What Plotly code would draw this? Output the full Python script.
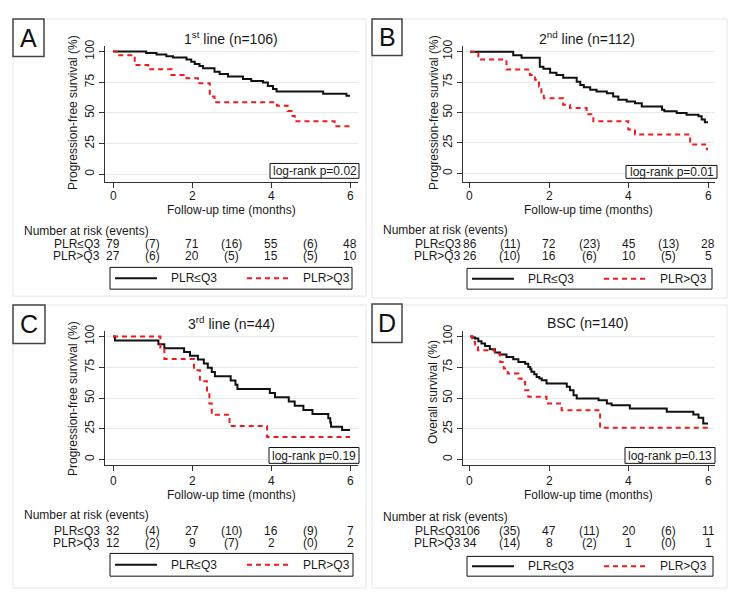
import plotly.graph_objects as go

# ---------------- data ----------------
risk_times = [0, 2, 4, 6]
event_times = [1, 3, 5]
group_labels = ["PLR≤Q3", "PLR>Q3"]

A_black_t = [0, 0.84, 1.1, 1.35, 1.52, 1.86, 1.98, 2.07, 2.19, 2.28, 2.57, 2.7, 2.91, 3.29, 3.5, 3.8, 3.92, 4.05, 4.14, 5.32, 5.91, 6.0]
A_black_s = [100, 98.9, 97.6, 96.2, 95.2, 93.5, 91.7, 89.8, 88.2, 86.3, 83.6, 81.7, 79.6, 77.7, 76.0, 74.7, 72.0, 69.4, 67.5, 65.6, 64.0, 64.0]
A_red_t = [0, 0.13, 0.55, 0.89, 1.48, 1.86, 2.15, 2.45, 2.57, 4.15, 4.42, 4.52, 4.6, 5.61, 6.0]
A_red_s = [100, 97.0, 89.0, 85.5, 80.9, 78.2, 74.2, 63.4, 58.6, 55.9, 51.5, 47.5, 43.3, 39.2, 39.2]

B_black_t = [0, 1.09, 1.3, 1.76, 1.85, 2.02, 2.18, 2.35, 2.69, 2.78, 2.87, 3.03, 3.19, 3.45, 3.61, 3.74, 3.95, 4.16, 4.33, 4.84, 4.9, 5.21, 5.46, 5.76, 5.84, 5.92, 6.0]
B_black_s = [100, 97.0, 95.0, 87.5, 86.0, 82.6, 80.8, 78.6, 75.3, 72.6, 70.7, 68.6, 67.2, 65.9, 63.1, 60.4, 59.1, 57.7, 55.0, 52.3, 51.0, 49.6, 48.2, 47.0, 44.2, 42.0, 42.0]
B_red_t = [0, 0.21, 0.92, 1.51, 1.64, 1.74, 1.8, 1.86, 2.35, 2.52, 2.94, 3.11, 3.99, 4.16, 5.55, 5.97, 6.0]
B_red_s = [100, 93.5, 85.4, 80.8, 76.9, 71.3, 65.4, 61.8, 56.4, 53.7, 48.5, 42.8, 36.0, 32.0, 23.8, 19.8, 19.8]

C_black_t = [0, 0.05, 1.15, 1.3, 1.8, 1.95, 2.15, 2.3, 2.4, 2.5, 2.58, 2.98, 3.1, 3.15, 3.97, 4.1, 4.45, 4.6, 4.82, 5.05, 5.45, 5.5, 5.52, 5.8, 6.0]
C_black_s = [100, 96.9, 93.8, 90.6, 87.5, 84.4, 81.3, 78.1, 74.6, 71.1, 67.7, 64.3, 60.8, 57.4, 54.0, 50.6, 47.2, 43.7, 40.3, 36.9, 33.5, 30.0, 26.6, 23.9, 23.9]
C_red_t = [0, 1.2, 1.3, 2.05, 2.2, 2.38, 2.44, 2.5, 2.95, 3.9, 6.0]
C_red_s = [100, 90.9, 81.8, 72.7, 63.6, 54.5, 45.5, 36.4, 27.3, 18.2, 18.2]

D_black_t = [0, 0.06, 0.13, 0.21, 0.29, 0.38, 0.5, 0.63, 0.76, 0.92, 1.09, 1.22, 1.39, 1.47, 1.52, 1.55, 1.62, 1.68, 1.75, 1.81, 1.93, 2.44, 2.52, 2.61, 2.69, 3.24, 3.45, 3.57, 4.03, 4.96, 5.63, 5.76, 5.88, 6.0]
D_black_s = [100, 99.2, 98.4, 96.2, 94.3, 92.4, 89.7, 87.0, 85.4, 83.5, 81.6, 79.4, 78.0, 75.3, 73.5, 71.3, 69.3, 67.2, 65.8, 64.5, 61.8, 59.1, 56.4, 52.3, 49.6, 48.2, 45.5, 44.2, 41.5, 38.8, 36.6, 33.9, 29.3, 29.3]
D_red_t = [0, 0.06, 0.13, 0.2, 0.62, 0.76, 0.85, 0.95, 1.22, 1.3, 1.39, 1.47, 1.93, 2.31, 3.28, 6.0]
D_red_s = [100, 95.7, 91.6, 88.9, 86.0, 79.4, 74.0, 69.9, 65.9, 63.1, 56.4, 51.0, 45.5, 40.1, 25.7, 25.7]

A_risk_lo = [79, 71, 55, 48]; A_ev_lo = [7, 16, 6]
A_risk_hi = [27, 20, 15, 10]; A_ev_hi = [6, 5, 5]
B_risk_lo = [86, 72, 45, 28]; B_ev_lo = [11, 23, 13]
B_risk_hi = [26, 16, 10, 5]; B_ev_hi = [10, 6, 5]
C_risk_lo = [32, 27, 16, 7]; C_ev_lo = [4, 10, 9]
C_risk_hi = [12, 9, 2, 2]; C_ev_hi = [2, 7, 0]
D_risk_lo = [106, 47, 20, 11]; D_ev_lo = [35, 11, 6]
D_risk_hi = [34, 8, 1, 1]; D_ev_hi = [14, 2, 0]

titles = ["1<sup>st</sup> line (n=106)", "2<sup>nd</sup> line (n=112)", "3<sup>rd</sup> line (n=44)", "BSC (n=140)"]
ytitles = ["Progression-free survival (%)", "Progression-free survival (%)", "Progression-free survival (%)", "Overall survival (%)"]
xtitle = "Follow-up time (months)"
letters = ["A", "B", "C", "D"]
pvalues = ["log-rank p=0.02", "log-rank p=0.01", "log-rank p=0.19", "log-rank p=0.13"]
y_ticks = [0, 25, 50, 75, 100]
x_ticks = [0, 2, 4, 6]

series = [
    (A_black_t, A_black_s, A_red_t, A_red_s, A_risk_lo, A_ev_lo, A_risk_hi, A_ev_hi),
    (B_black_t, B_black_s, B_red_t, B_red_s, B_risk_lo, B_ev_lo, B_risk_hi, B_ev_hi),
    (C_black_t, C_black_s, C_red_t, C_red_s, C_risk_lo, C_ev_lo, C_risk_hi, C_ev_hi),
    (D_black_t, D_black_s, D_red_t, D_red_s, D_risk_lo, D_ev_lo, D_risk_hi, D_ev_hi),
]

# ---------------- layout (pixel positions of the 740x602 page) ----------------
OFF = 8                      # default body margin of the html page
W, H = 740 - 2 * OFF, 602 - 2 * OFF
def px(x): return (x - OFF) / W
def py(y): return 1 - (y - OFF) / H

FONT = "Liberation Sans, Arial, sans-serif"
TXT = "#1a1a1a"
BLACK = "#111111"
RED = "#ee1c1c"
GRID = "#e3ebee"
PANEL = "#e2e7e9"

L = [
    dict(xd=(105, 358), yd=(40, 178), xr=(-0.2025, 6.2025), yr=(-6.5, 104.8), title=(231, 32), ytitle=(73, 108),
         xtick_y=192, xtitle=(231, 206), header=(23, 227), rows=(240, 253), lab_r=101, leg=(110, 264, 352, 286),
         lr=(270, 159, 359, 174), letter=(13, 13, 44, 51), panel=(13, 13, 366, 293)),
    dict(xd=(463, 715), yd=(40, 178), xr=(-0.176, 6.176), yr=(-7.3, 104.9), title=(587, 32), ytitle=(434, 108),
         xtick_y=192, xtitle=(588, 206), header=(382, 226), rows=(240, 253), lab_r=462, leg=(467, 265, 712, 286),
         lr=(626, 161, 717, 174), letter=(372, 13, 402, 50), panel=(372, 13, 727, 295)),
    dict(xd=(105, 358), yd=(328, 464), xr=(-0.2025, 6.2025), yr=(-4.8, 104.8), title=(231, 320), ytitle=(73, 397),
         xtick_y=480, xtitle=(231, 494), header=(23, 514), rows=(530, 542), lab_r=101, leg=(110, 553, 353, 576),
         lr=(269, 446, 359, 462), letter=(13, 302, 45, 341), panel=(13, 302, 366, 588)),
    dict(xd=(463, 715), yd=(328, 464), xr=(-0.176, 6.176), yr=(-4.8, 104.8), title=(587, 320), ytitle=(433, 390),
         xtick_y=480, xtitle=(588, 494), header=(382, 516), rows=(530, 542), lab_r=462, leg=(467, 556, 713, 576),
         lr=(625, 446, 715, 462), letter=(372, 301, 402, 340), panel=(372, 302, 727, 588)),
]

fig = go.Figure()
shapes = []
annotations = []
layout_axes = {}


def note(text, x, y, xref="paper", xanchor="center", size=12, **kw):
    d = dict(text=text, x=x, y=y, xref=xref, yref="paper", showarrow=False, xanchor=xanchor,
             yanchor="middle", borderpad=0, font=dict(family=FONT, size=size, color=kw.pop("color", TXT)))
    d.update(kw)
    annotations.append(d)


for i, (cfg, ser) in enumerate(zip(L, series)):
    n = i + 1
    xa = "x" if n == 1 else f"x{n}"
    ya = "y" if n == 1 else f"y{n}"
    bt, bs, rt, rs, rlo, elo, rhi, ehi = ser

    # panel frame
    x0, y0, x1, y1 = cfg["panel"]
    shapes.append(dict(type="rect", xref="paper", yref="paper", x0=px(x0), x1=px(x1), y0=py(y1), y1=py(y0),
                       line=dict(color=PANEL, width=1), fillcolor="white", layer="below"))

    fig.add_trace(go.Scatter(x=bt, y=bs, mode="lines", line=dict(color=BLACK, width=2, shape="hv"),
                             xaxis=xa, yaxis=ya, showlegend=False, hoverinfo="skip"))
    fig.add_trace(go.Scatter(x=rt, y=rs, mode="lines", line=dict(color=RED, width=2, shape="hv", dash="5px,4px"),
                             xaxis=xa, yaxis=ya, showlegend=False, hoverinfo="skip"))

    xkey = "xaxis" if n == 1 else f"xaxis{n}"
    ykey = "yaxis" if n == 1 else f"yaxis{n}"
    layout_axes[xkey] = dict(domain=[px(cfg["xd"][0]), px(cfg["xd"][1])], range=list(cfg["xr"]), anchor=ya,
                             tickvals=x_ticks, ticks="outside", ticklen=5, tickcolor="#333", showline=True,
                             linecolor="#333", linewidth=1, showgrid=False, zeroline=False,
                             showticklabels=False, fixedrange=True)
    layout_axes[ykey] = dict(domain=[py(cfg["yd"][1]), py(cfg["yd"][0])], range=list(cfg["yr"]), anchor=xa,
                             tickvals=y_ticks, ticks="outside", ticklen=5, tickcolor="#333", showline=True,
                             linecolor="#333", linewidth=1, showgrid=True, gridcolor=GRID, gridwidth=1,
                             zeroline=False, tickangle=-90,
                             tickfont=dict(family=FONT, size=12, color=TXT), fixedrange=True)

    # x tick labels (placed like the Stata original)
    for t in x_ticks:
        note(str(t), t, py(cfg["xtick_y"]), xref=xa)

    # title, axis titles
    note(titles[i], px(cfg["title"][0]), py(cfg["title"][1]), size=14)
    note(ytitles[i], px(cfg["ytitle"][0]), py(cfg["ytitle"][1]), textangle=-90)
    note(xtitle, px(cfg["xtitle"][0]), py(cfg["xtitle"][1]))

    # log-rank box
    lx0, ly0, lx1, ly1 = cfg["lr"]
    shapes.append(dict(type="rect", xref="paper", yref="paper", x0=px(lx0), x1=px(lx1), y0=py(ly1), y1=py(ly0),
                       line=dict(color="#111", width=1), fillcolor="white"))
    note(pvalues[i], px((lx0 + lx1) / 2), py((ly0 + ly1) / 2 + 0.5))

    # letter box
    bx0, by0, bx1, by1 = cfg["letter"]
    shapes.append(dict(type="rect", xref="paper", yref="paper", x0=px(bx0), x1=px(bx1), y0=py(by1), y1=py(by0),
                       line=dict(color="#444", width=1.5), fillcolor="white"))
    note(letters[i], px((bx0 + bx1) / 2), py((by0 + by1) / 2), size=25, color="#111")

    # number at risk table
    note("Number at risk (events)", px(cfg["header"][0]), py(cfg["header"][1]), xanchor="left")
    for row_y, lab, risk, ev in [(cfg["rows"][0], group_labels[0], rlo, elo),
                                 (cfg["rows"][1], group_labels[1], rhi, ehi)]:
        note(lab, px(cfg["lab_r"]), py(row_y), xanchor="right")
        for t, v in zip(risk_times, risk):
            note(str(v), t, py(row_y), xref=xa)
        for t, v in zip(event_times, ev):
            note(f"({v})", t, py(row_y), xref=xa)

    # legend box
    gx0, gy0, gx1, gy1 = cfg["leg"]
    gm = (gy0 + gy1) / 2
    shapes.append(dict(type="rect", xref="paper", yref="paper", x0=px(gx0), x1=px(gx1), y0=py(gy1), y1=py(gy0),
                       line=dict(color="#111", width=1), fillcolor="white"))
    shapes.append(dict(type="line", xref="paper", yref="paper", x0=px(gx0 + 5), x1=px(gx0 + 47), y0=py(gm), y1=py(gm),
                       line=dict(color=BLACK, width=2)))
    shapes.append(dict(type="line", xref="paper", yref="paper", x0=px(gx0 + 137), x1=px(gx0 + 178), y0=py(gm), y1=py(gm),
                       line=dict(color=RED, width=2, dash="5px,4px")))
    note(group_labels[0], px(gx0 + 60), py(gm), xanchor="left")
    note(group_labels[1], px(gx0 + 192), py(gm), xanchor="left")

fig.update_layout(width=W, height=H, autosize=False, margin=dict(l=0, r=0, t=0, b=0),
                  paper_bgcolor="white", plot_bgcolor="rgba(0,0,0,0)", showlegend=False,
                  shapes=shapes, annotations=annotations, **layout_axes)

fig.write_html("out.html")
